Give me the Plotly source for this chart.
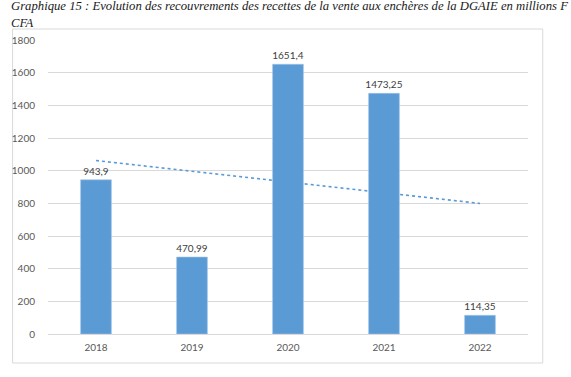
import numpy as np
import plotly.graph_objects as go

years = ["2018", "2019", "2020", "2021", "2022"]
values = [943.9, 470.99, 1651.4, 1473.25, 114.35]
value_labels = ["943,9", "470,99", "1651,4", "1473,25", "114,35"]
y_ticks = [0, 200, 400, 600, 800, 1000, 1200, 1400, 1600, 1800]

title_text = ("<i>Graphique 15 : Evolution des recouvrements des recettes de la vente aux enchères de la DGAIE en millions F"
              "<br>CFA</i>")

# linear trend (as Excel's linear trendline) from the data
xi = np.arange(1, len(values) + 1)
slope, intercept = np.polyfit(xi, values, 1)
trend = list(slope * xi + intercept)

W, H = 571, 377
L, R, T, B = 40, 43, 40, 43
pw, ph = W - L - R, H - T - B

def px_x(p):
    return (p - L) / pw

def px_y(p):
    return (H - B - p) / ph

fig = go.Figure()
fig.add_trace(go.Bar(
    x=years, y=values, text=value_labels, textposition="outside",
    constraintext="none",
    textfont=dict(family="Lato, Liberation Sans, sans-serif", size=10, color="#404040"),
    marker=dict(color="#5B9BD5", line=dict(color="#9DC3E6", width=0.6)),
    cliponaxis=False, showlegend=False, hoverinfo="skip",
))
fig.add_trace(go.Scatter(
    x=years, y=trend, mode="lines",
    line=dict(color="#5B9BD5", width=1.6, dash="dot"),
    showlegend=False, hoverinfo="skip",
))

fig.update_layout(
    width=W, height=H,
    margin=dict(l=L, r=R, t=T, b=B),
    paper_bgcolor="white", plot_bgcolor="white",
    bargap=0.68,
    font=dict(family="Lato, Liberation Sans, sans-serif", size=10, color="#595959"),
    xaxis=dict(showgrid=False, showline=False, ticks="", zeroline=False,
               tickfont=dict(size=10, color="#595959"), ticklabelstandoff=6),
    yaxis=dict(range=[0, 1800], tickvals=y_ticks, showgrid=True,
               gridcolor="#D9D9D9", gridwidth=1, zeroline=True,
               zerolinecolor="#D9D9D9", zerolinewidth=1, ticks="",
               showline=False, tickfont=dict(size=10, color="#595959"),
               ticklabelstandoff=12),
    shapes=[dict(type="rect", xref="paper", yref="paper",
                 x0=px_x(4), x1=px_x(543), y0=px_y(363), y1=px_y(29),
                 line=dict(color="#D9D9D9", width=1), fillcolor="rgba(0,0,0,0)",
                 layer="below")],
    annotations=[dict(text=title_text, xref="paper", yref="paper",
                      x=px_x(0), y=px_y(-3), xanchor="left", yanchor="top",
                      align="left", showarrow=False,
                      font=dict(family="Liberation Serif, serif", size=12.7, color="#1a1a1a"))],
)

fig.write_html("out.html", config={"displayModeBar": False},
               post_script="document.body.style.margin='0';")
